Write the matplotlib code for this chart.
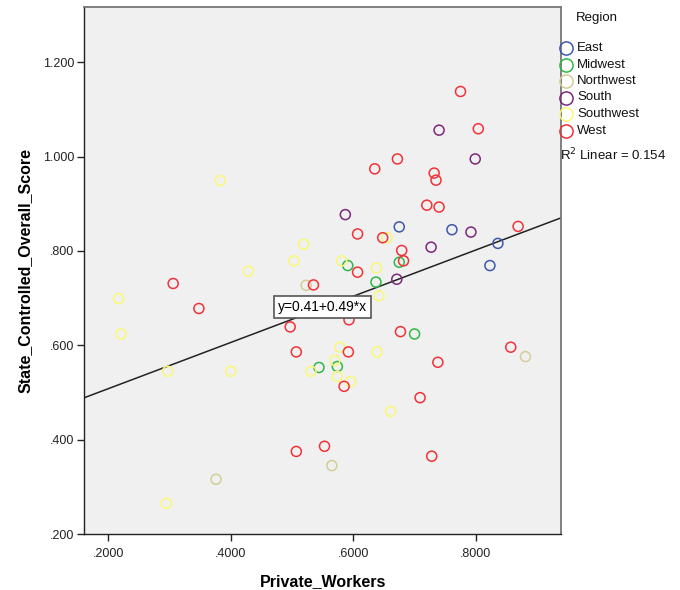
import matplotlib
matplotlib.use("Agg")
import matplotlib.pyplot as plt
from matplotlib.lines import Line2D
import numpy as np

plt.rcParams['font.family'] = ['Liberation Sans', 'DejaVu Sans']

regions = ["East", "Midwest", "Northwest", "South", "Southwest", "West"]
colors = {
    "East": "#3E58AC",
    "Midwest": "#2EB848",
    "Northwest": "#D3CE97",
    "South": "#7C287D",
    "Southwest": "#FBF873",
    "West": "#EF3338",
}

east_x = [0.675, 0.761, 0.836, 0.823]
east_y = [0.851, 0.845, 0.816, 0.769]

midwest_x = [0.544, 0.591, 0.675, 0.637, 0.700, 0.574]
midwest_y = [0.553, 0.769, 0.776, 0.734, 0.624, 0.555]

northwest_x = [0.523, 0.565, 0.376, 0.881]
northwest_y = [0.727, 0.345, 0.316, 0.576]

south_x = [0.740, 0.799, 0.587, 0.792, 0.727, 0.671]
south_y = [1.056, 0.995, 0.877, 0.840, 0.808, 0.740]

southwest_x = [0.383, 0.519, 0.503, 0.429, 0.217, 0.221, 0.297, 0.400, 0.531, 0.295,
               0.655, 0.581, 0.638, 0.642, 0.578, 0.639, 0.570, 0.574, 0.596, 0.661]
southwest_y = [0.949, 0.814, 0.779, 0.757, 0.699, 0.624, 0.545, 0.545, 0.545, 0.265,
               0.828, 0.779, 0.764, 0.705, 0.596, 0.586, 0.568, 0.534, 0.523, 0.460]

west_x = [0.775, 0.804, 0.672, 0.635, 0.732, 0.735, 0.535, 0.306, 0.348, 0.497,
          0.507, 0.507, 0.553, 0.720, 0.740, 0.869, 0.607, 0.648, 0.679, 0.607,
          0.682, 0.593, 0.677, 0.592, 0.857, 0.738, 0.585, 0.709, 0.728]
west_y = [1.138, 1.059, 0.995, 0.974, 0.965, 0.950, 0.728, 0.731, 0.678, 0.639,
          0.586, 0.375, 0.386, 0.897, 0.893, 0.852, 0.836, 0.828, 0.801, 0.755,
          0.779, 0.654, 0.629, 0.586, 0.596, 0.564, 0.513, 0.489, 0.365]

series = {
    "East": (east_x, east_y),
    "Midwest": (midwest_x, midwest_y),
    "Northwest": (northwest_x, northwest_y),
    "South": (south_x, south_y),
    "Southwest": (southwest_x, southwest_y),
    "West": (west_x, west_y),
}

intercept = 0.41
slope = 0.49
r_squared = 0.154

x_ticks = [0.2, 0.4, 0.6, 0.8]
x_tick_labels = [".2000", ".4000", ".6000", ".8000"]
y_ticks = [0.2, 0.4, 0.6, 0.8, 1.0, 1.2]
y_tick_labels = [".200", ".400", ".600", ".800", "1.000", "1.200"]

W, H = 680, 590
fig = plt.figure(figsize=(W / 100, H / 100), dpi=100)
ax = fig.add_axes([0.124, 0.0949, 0.701, 0.8924])
ax.set_facecolor("#F0F0F0")

xmin, xmax = 0.161, 0.939
ymin, ymax = 0.2, 1.316

for name in regions:
    xs, ys = series[name]
    ax.scatter(xs, ys, s=52, facecolors="none", edgecolors=colors[name],
               linewidths=1.1, zorder=3)

xl = np.array([xmin, xmax])
ax.plot(xl, intercept + slope * xl, color="#222222", lw=1.1, zorder=2)

ax.text(0.550, 0.681, f"y={intercept:.2f}+{slope:.2f}*x", fontsize=10,
        ha="center", va="center", zorder=5,
        bbox=dict(boxstyle="square,pad=0.3", facecolor="white",
                  edgecolor="#555555", lw=1.2))

ax.set_xlim(xmin, xmax)
ax.set_ylim(ymin, ymax)
ax.set_xticks(x_ticks)
ax.set_xticklabels(x_tick_labels)
ax.set_yticks(y_ticks)
ax.set_yticklabels(y_tick_labels)
ax.tick_params(axis="both", direction="out", length=5, width=1,
               labelsize=9, colors="#222222", labelcolor="#222222")
ax.tick_params(axis="x", pad=5)
ax.tick_params(axis="y", pad=2)

for side in ["left", "bottom"]:
    ax.spines[side].set_color("#222222")
    ax.spines[side].set_linewidth(1.0)
for side in ["top", "right"]:
    ax.spines[side].set_color("#777777")
    ax.spines[side].set_linewidth(1.3)

ax.set_xlabel("Private_Workers", fontsize=11.5, fontweight="bold", labelpad=10)
ax.set_ylabel("State_Controlled_Overall_Score", fontsize=11.5,
              fontweight="bold", labelpad=8)

# Legend drawn by hand in pixel positions of the figure
def fx(px):
    return px / W

def fy(py):
    return 1 - py / H

fig.text(fx(597), fy(18), "Region", fontsize=9.5, ha="center", va="center",
         color="#111111")
for i, name in enumerate(regions):
    yy = 48 + 16.5 * i
    fig.add_artist(Line2D([fx(566)], [fy(yy)], marker="o", markersize=9.5,
                          markerfacecolor="none", markeredgecolor=colors[name],
                          markeredgewidth=1.1, linestyle="none",
                          transform=fig.transFigure))
    fig.text(fx(577), fy(yy), name, fontsize=9.5, ha="left", va="center",
             color="#111111")

fig.text(fx(560), fy(155), f"R$^2$ Linear = {r_squared:.3f}", fontsize=9.5,
         ha="left", va="center", color="#111111")

fig.savefig("out.png", dpi=100, facecolor="white")
